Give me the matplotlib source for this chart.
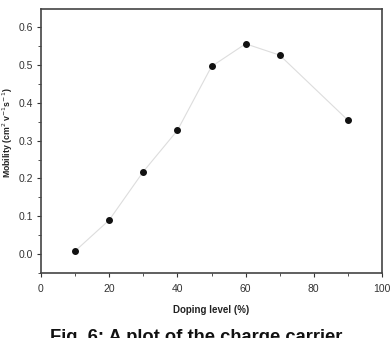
import matplotlib.pyplot as plt
from matplotlib.ticker import MultipleLocator

# doping level (%) and carrier mobility
doping = [10, 20, 30, 40, 50, 60, 70, 90]
mobility = [0.008, 0.090, 0.218, 0.327, 0.496, 0.556, 0.526, 0.354]

plt.rcParams['font.family'] = ['Liberation Sans', 'DejaVu Sans']

fig = plt.figure(figsize=(3.92, 3.38), dpi=100)
ax = fig.add_axes([41 / 392, 1 - 273 / 338, 341 / 392, 264 / 338])

ax.plot(doping, mobility, color='#dddddd', lw=0.8, zorder=1)
ax.scatter(doping, mobility, s=16, color='#111111', zorder=2)

ax.set_xlim(0, 100)
ax.set_ylim(-0.05, 0.648)
ax.xaxis.set_major_locator(MultipleLocator(20))
ax.xaxis.set_minor_locator(MultipleLocator(10))
ax.yaxis.set_minor_locator(MultipleLocator(0.05))
ax.set_yticks([0.0, 0.1, 0.2, 0.3, 0.4, 0.5, 0.6])
ax.set_yticklabels(['0.0', '0.1', '0.2', '0.3', '0.4', '0.5', '0.6'])

ax.tick_params(which='major', direction='out', length=3, width=0.8,
               labelsize=7.5, colors='#333333', pad=3)
ax.tick_params(axis='x', which='major', pad=5)
ax.tick_params(which='minor', direction='out', length=2, width=0.6,
               colors='#333333')
for s in ax.spines.values():
    s.set_linewidth(1.2)
    s.set_color('#444444')

ax.set_xlabel('Doping level (%)', fontsize=7, fontweight='bold',
              labelpad=8, color='#222222')
ax.set_ylabel('Mobility (cm$^2$ v$^{-1}$s$^{-1}$)', fontsize=6.3,
              fontweight='bold', color='#222222')
ax.yaxis.set_label_coords(-26 / 341, (273 - 133) / 264)

fig.text(196 / 392, 1 - 342 / 338, 'Fig. 6: A plot of the charge carrier',
         ha='center', va='baseline', fontsize=13.2, fontweight='bold',
         color='#111111')

fig.savefig('out.png', dpi=100)
